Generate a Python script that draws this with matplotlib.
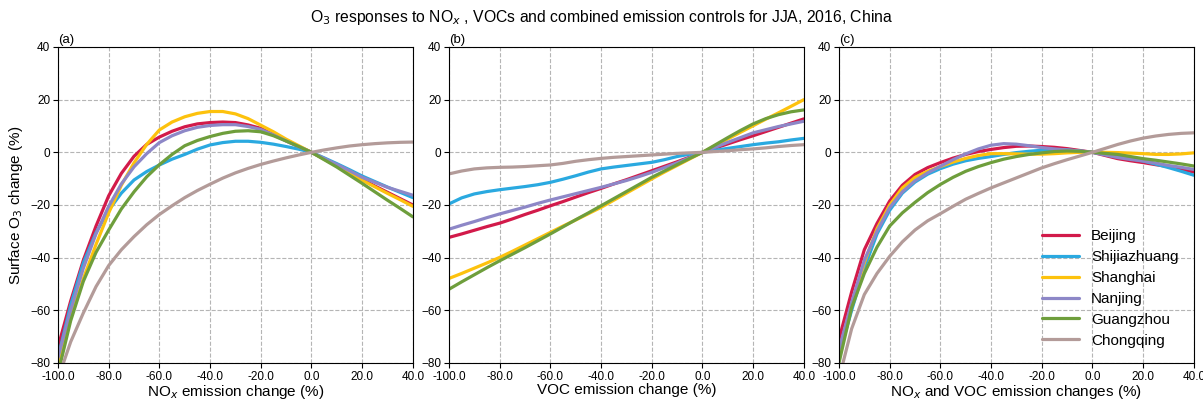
import numpy as np
import matplotlib
matplotlib.use('Agg')
import matplotlib.pyplot as plt

plt.rcParams['font.family'] = ['Liberation Sans', 'DejaVu Sans']

# emission change (%) at which values were read
change = np.arange(-100, 41, 5)

cities = ['Beijing', 'Shijiazhuang', 'Shanghai', 'Nanjing', 'Guangzhou', 'Chongqing']
colors = ['#d21a4a', '#2aa9e0', '#fdc20d', '#8d87c7', '#6e9e3c', '#b39b99']

# (a) NOx only
nox_beijing = [-74, -56.5, -41, -28, -16.5, -8, -1.5, 3, 5.8, 8, 9.7, 10.8, 11.3, 11.5, 11.3,
               10.4, 9.1, 6.8, 4.4, 2.2, 0, -2.5, -5.0, -7.7, -10.3, -12.8, -15.2, -17.6, -20.0]
nox_shijiazhuang = [-78, -58, -42, -30.5, -22, -15.5, -10.5, -7.3, -4.8, -2.6, -0.8, 1.2, 2.8, 3.7, 4.2,
                    4.2, 3.8, 3.1, 2.2, 1.2, 0, -2.1, -4.3, -6.6, -9.0, -11.1, -13.2, -15.2, -17.2]
nox_shanghai = [-80, -63, -48, -35, -23, -12.5, -4, 3, 8.5, 11.5, 13.5, 14.8, 15.5, 15.5, 14.6,
                12.8, 10.3, 7.8, 5, 2.5, 0, -2.6, -5.2, -7.9, -10.6, -13.1, -15.6, -18.0, -20.5]
nox_nanjing = [-78, -60, -44, -31, -20.5, -12, -5.5, -0.5, 3.7, 6.3, 8.2, 9.5, 10.2, 10.5, 10.5,
               9.8, 8.7, 6.6, 4.3, 2.1, 0, -2.3, -4.6, -7.0, -9.5, -11.4, -13.3, -14.8, -16.3]
nox_guangzhou = [-84, -64, -49, -38, -29.5, -21.5, -15, -9.3, -4.7, -0.8, 2.5, 4.5, 6, 7.2, 8,
                 8.2, 7.8, 6.3, 4.3, 2.2, 0, -2.8, -5.6, -8.7, -11.8, -15, -18.2, -21.3, -24.5]
nox_chongqing = [-86, -72, -61, -51, -43, -37, -32, -27.5, -23.6, -20.3, -17.2, -14.5, -12.1, -9.8, -7.8,
                 -6.1, -4.6, -3.3, -2.1, -1.0, 0, 0.9, 1.7, 2.4, 2.9, 3.3, 3.6, 3.8, 3.9]

# (b) VOC only
voc_beijing = [-32.3, -31, -29.6, -28.2, -26.9, -25.3, -23.6, -22, -20.3, -18.7, -17, -15.3, -13.7, -12, -10.4,
               -8.7, -7, -5.3, -3.6, -1.8, 0, 1.6, 3.2, 4.8, 6.3, 7.9, 9.5, 11.1, 12.7]
voc_shijiazhuang = [-19.6, -17.3, -15.8, -14.9, -14.2, -13.6, -13, -12.3, -11.4, -10.2, -8.9, -7.5, -6.3, -5.6, -5,
                    -4.4, -3.8, -2.8, -1.6, -0.7, 0, 0.8, 1.5, 2.2, 2.9, 3.5, 4, 4.7, 5.3]
voc_shanghai = [-47.9, -46, -44, -42, -39.9, -37.6, -35.2, -32.8, -30.4, -28, -25.7, -23.3, -20.9, -18.2, -15.5,
                -12.8, -10.1, -7.5, -5, -2.5, 0, 2.5, 5.1, 7.6, 10.1, 12.6, 15, 17.5, 20]
voc_nanjing = [-29.2, -27.7, -26.3, -24.8, -23.4, -22.1, -20.8, -19.4, -18.1, -16.9, -15.7, -14.5, -13.3, -12, -10.7,
               -9.2, -7.6, -5.8, -4, -2, 0, 1.9, 3.8, 5.6, 7.4, 8.6, 9.8, 10.8, 11.8]
voc_guangzhou = [-52, -49.2, -46.5, -43.8, -41.2, -38.7, -36.2, -33.6, -31, -28.3, -25.6, -23, -20.3, -17.6, -14.9,
                 -12.2, -9.5, -7.1, -4.7, -2.3, 0, 2.8, 5.6, 8.3, 10.8, 12.8, 14.3, 15.4, 16.1]
voc_chongqing = [-8.2, -7.1, -6.3, -5.9, -5.7, -5.6, -5.4, -5.1, -4.8, -4.2, -3.4, -2.8, -2.3, -1.9, -1.6,
                 -1.3, -1, -0.7, -0.4, -0.2, 0, 0.3, 0.6, 1, 1.3, 1.7, 2.2, 2.6, 2.9]

# (c) NOx and VOC together
both_beijing = [-71, -53, -37, -27, -18.5, -12.5, -8.4, -5.8, -3.9, -2.2, -0.8, 0.3, 1.1, 1.8, 2.3,
                2.4, 2.2, 1.9, 1.4, 0.7, 0, -1.2, -2.4, -3.2, -3.9, -4.7, -5.4, -6.4, -7.5]
both_shijiazhuang = [-77, -60, -44, -31, -22, -15.5, -11.3, -8.3, -6.2, -4.5, -3.2, -2.3, -1.6, -0.8, -0.1,
                     0.4, 0.8, 1.0, 0.9, 0.5, 0, -0.8, -1.6, -2.4, -3.3, -4.5, -5.8, -7.2, -8.7]
both_shanghai = [-76, -58, -42, -29, -20, -13.5, -9.5, -7.2, -5.4, -3.7, -2.3, -1.2, -0.5, -0.5, -0.6,
                 -0.7, -0.7, -0.5, -0.2, 0, 0, 0, -0.1, -0.3, -0.5, -0.8, -0.8, -0.6, -0.2]
both_nanjing = [-75, -57, -41, -30, -21, -15, -10.8, -7.8, -5.3, -2.8, -0.6, 1.3, 2.7, 3.3, 3.1,
                2.5, 1.8, 1.3, 0.9, 0.5, 0, -1.0, -2.0, -2.7, -3.3, -4.1, -5.0, -5.7, -6.5]
both_guangzhou = [-80, -59, -46, -36, -28, -23, -19, -15.3, -12.2, -9.5, -7.2, -5.4, -3.9, -2.6, -1.6,
                  -0.8, -0.2, 0.3, 0.5, 0.4, 0, -0.4, -0.8, -1.6, -2.4, -3.0, -3.7, -4.4, -5.2]
both_chongqing = [-86, -67, -54, -46, -39.5, -34, -29.5, -26, -23.3, -20.5, -17.8, -15.6, -13.5, -11.6, -9.7,
                  -7.8, -5.9, -4.3, -2.8, -1.4, 0, 1.5, 3, 4.3, 5.4, 6.2, 6.8, 7.2, 7.4]

panels = [
    ('(a)', r'NO$_x$ emission change (%)',
     [nox_beijing, nox_shijiazhuang, nox_shanghai, nox_nanjing, nox_guangzhou, nox_chongqing]),
    ('(b)', 'VOC emission change (%)',
     [voc_beijing, voc_shijiazhuang, voc_shanghai, voc_nanjing, voc_guangzhou, voc_chongqing]),
    ('(c)', r'NO$_x$ and VOC emission changes (%)',
     [both_beijing, both_shijiazhuang, both_shanghai, both_nanjing, both_guangzhou, both_chongqing]),
]

xticks = np.arange(-100, 41, 20)
fig = plt.figure(figsize=(12.03, 4.01), dpi=100)
lefts = [0.0482, 0.3732, 0.6974]

for i, (tag, xlabel, series) in enumerate(panels):
    ax = fig.add_axes([lefts[i], 0.0948, 0.295, 0.788])
    for name, col, vals in zip(cities, colors, series):
        ax.plot(change, vals, color=col, lw=2.3, label=name, solid_capstyle='round')
    ax.set_xlim(-100, 40)
    ax.set_ylim(-80, 40)
    ax.set_xticks(xticks)
    ax.set_xticklabels(['%.1f' % t for t in xticks])
    ax.set_yticks(np.arange(-80, 41, 20))
    ax.tick_params(labelsize=8.5, length=3.5, width=0.8, pad=2)
    ax.grid(True, ls='--', color='#b5b5b5', lw=0.8)
    ax.set_axisbelow(True)
    ax.set_xlabel(xlabel, fontsize=11, labelpad=0)
    ax.set_title(tag, loc='left', fontsize=9.5, pad=3)
    if i == 0:
        ax.set_ylabel(r'Surface O$_3$ change (%)', fontsize=11, labelpad=4)
    if i == 2:
        ax.legend(loc='lower right', frameon=False, fontsize=11, handlelength=2.4,
                  borderaxespad=0.6, labelspacing=0.45)

fig.text(0.5, 0.945, r'O$_3$ responses to NO$_x$ , VOCs and combined emission controls for JJA, 2016, China',
         ha='center', fontsize=11.3)

fig.savefig('out.png', dpi=100)
